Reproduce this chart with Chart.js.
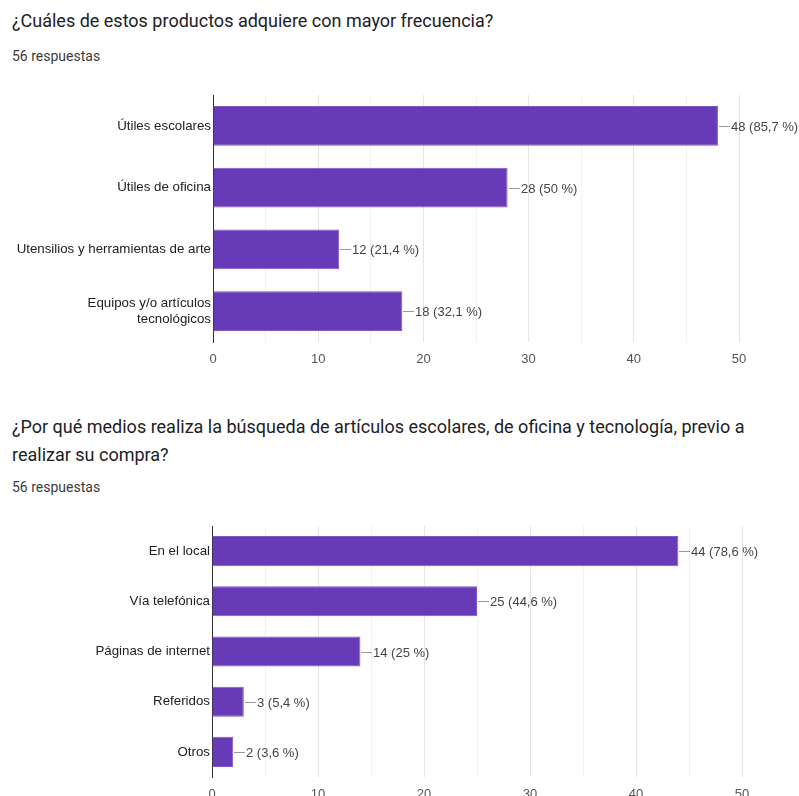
<!DOCTYPE html>
<html lang="es">
<head>
    <meta charset="UTF-8">
    <title>Respuestas</title>
    <script src="https://cdn.jsdelivr.net/npm/chart.js"></script>
    <style>
        html, body {
            margin: 0;
            padding: 0;
            background: #fff;
            overflow: hidden;
            width: 799px;
            height: 796px;
        }
        .q {
            position: absolute;
            left: 12px;
            font-family: Roboto, Arial, sans-serif;
            color: #202124;
            white-space: nowrap;
        }
        .title { font-size: 18px; line-height: 28px; }
        .count { font-size: 14px; color: #3c3c3c; }
        .box {
            position: absolute;
            left: 0;
            width: 799px;
        }
    </style>
</head>
<body>
    <div class="q title" style="top:7px">¿Cuáles de estos productos adquiere con mayor frecuencia?</div>
    <div class="q count" style="top:48px">56 respuestas</div>
    <div class="box" style="top:90px;height:290px"><canvas id="chart1"></canvas></div>

    <div class="q title" style="top:413px">¿Por qué medios realiza la búsqueda de artículos escolares, de oficina y tecnología, previo a<br>realizar su compra?</div>
    <div class="q count" style="top:479px">56 respuestas</div>
    <div class="box" style="top:520px;height:295px"><canvas id="chart2"></canvas></div>

    <script>
        const productLabels = ['Útiles escolares', 'Útiles de oficina', 'Utensilios y herramientas de arte', ['Equipos y/o artículos', 'tecnológicos']];
        const productValues = [48, 28, 12, 18];
        const productPercents = ['85,7', '50', '21,4', '32,1'];

        const mediaLabels = ['En el local', 'Vía telefónica', 'Páginas de internet', 'Referidos', 'Otros'];
        const mediaValues = [44, 25, 14, 3, 2];
        const mediaPercents = ['78,6', '44,6', '25', '5,4', '3,6'];

        const xTicks = [0, 10, 20, 30, 40, 50];
        const barColor = '#673ab7';

        // etiqueta "—48 (85,7 %)" al final de cada barra
        const valueLabels = {
            id: 'valueLabels',
            afterDatasetsDraw(chart, args, opts) {
                const ctx = chart.ctx;
                const meta = chart.getDatasetMeta(0);
                ctx.save();
                ctx.font = '13px "Liberation Sans", Arial, sans-serif';
                ctx.fillStyle = '#444';
                ctx.strokeStyle = '#999';
                ctx.lineWidth = 1;
                ctx.textBaseline = 'middle';
                meta.data.forEach((bar, i) => {
                    const x = Math.round(bar.x) + 1;
                    const y = Math.round(bar.y) + 0.5;
                    ctx.beginPath();
                    ctx.moveTo(x, y);
                    ctx.lineTo(x + 11, y);
                    ctx.stroke();
                    ctx.fillText(opts.texts[i], x + 12, y + 1);
                });
                ctx.restore();
            }
        };

        function makeChart(id, labels, values, percents, opt) {
            const texts = values.map((v, i) => v + ' (' + percents[i] + ' %)');
            return new Chart(document.getElementById(id), {
                type: 'bar',
                data: {
                    labels: labels,
                    datasets: [{
                        data: values,
                        backgroundColor: barColor,
                        borderColor: '#7e57c2',
                        borderWidth: 1,
                        borderSkipped: 'left',
                        barPercentage: opt.barPct,
                        categoryPercentage: 1
                    }]
                },
                plugins: [valueLabels],
                options: {
                    indexAxis: 'y',
                    responsive: true,
                    maintainAspectRatio: false,
                    animation: false,
                    layout: { padding: { top: opt.top, right: opt.right, left: 0, bottom: 0 } },
                    plugins: {
                        legend: { display: false },
                        tooltip: { enabled: false },
                        valueLabels: { texts: texts }
                    },
                    scales: {
                        x: {
                            min: 0,
                            max: 50,
                            afterBuildTicks(axis) {
                                const t = [];
                                for (let v = 0; v <= 50; v += 5) t.push({ value: v });
                                axis.ticks = t;
                            },
                            afterFit(axis) { axis.height = 38; },
                            grid: {
                                color: c => (c.tick && c.tick.value % 10 === 0) ? '#e4e4e4' : '#f2f2f2',
                                drawTicks: false
                            },
                            border: { display: false },
                            ticks: {
                                padding: 10,
                                color: '#555',
                                font: { family: '"Liberation Sans", Arial, sans-serif', size: 13 },
                                callback: v => xTicks.includes(v) ? v : ''
                            }
                        },
                        y: {
                            afterFit(axis) {
                                axis.width = opt.left;
                                axis.paddingTop = 0;
                                axis.paddingBottom = 0;
                            },
                            grid: { display: false, drawTicks: false },
                            border: { display: true, color: '#333', width: 1 },
                            ticks: {
                                padding: 2,
                                color: '#222',
                                font: { family: '"Liberation Sans", Arial, sans-serif', size: 13.3 }
                            }
                        }
                    }
                }
            });
        }

        makeChart('chart1', productLabels, productValues, productPercents, { top: 5, right: 60, left: 213, barPct: 0.64 });
        makeChart('chart2', mediaLabels, mediaValues, mediaPercents, { top: 6, right: 57, left: 212, barPct: 0.6 });
    </script>
</body>
</html>
